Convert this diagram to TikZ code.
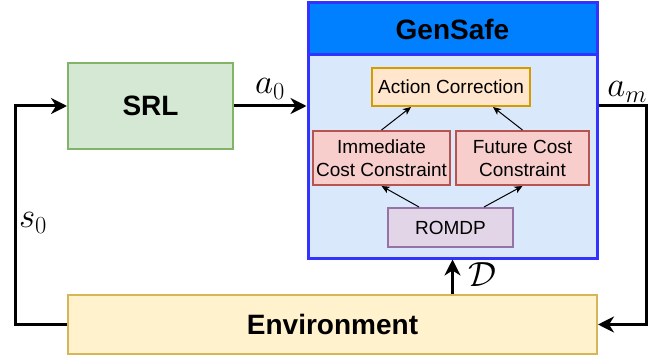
\RequirePackage{fix-cm}
\documentclass[tikz,border=0pt]{standalone}
\usepackage{fontspec}
\setmainfont{Liberation Sans}
\usetikzlibrary{arrows.meta,calc}
\definecolor{srlfill}{HTML}{D5E8D4}
\definecolor{srlline}{HTML}{82B366}
\definecolor{hdrfill}{HTML}{007FFF}
\definecolor{gsline}{HTML}{3333FF}
\definecolor{bodyfill}{HTML}{DAE8FC}
\definecolor{actfill}{HTML}{FFE6CC}
\definecolor{actline}{HTML}{D79B00}
\definecolor{redfill}{HTML}{F8CECC}
\definecolor{redline}{HTML}{B85450}
\definecolor{purfill}{HTML}{E1D5E7}
\definecolor{purline}{HTML}{9673A6}
\definecolor{envfill}{HTML}{FFF2CC}
\definecolor{envline}{HTML}{D6B656}
\tikzset{
  boxbase/.style={draw, rectangle, inner sep=0pt, align=center},
  bigtext/.style={font=\fontsize{28}{32}\selectfont\bfseries},
  smalltext/.style={font=\fontsize{19}{23}\selectfont},
  innerbox/.style={boxbase, smalltext, line width=2pt},
  thickarrow/.style={line width=3pt, -{Stealth[length=16pt,width=16pt,inset=5pt]}},
  thinarrow/.style={line width=1pt, -{Stealth[length=8pt,width=7pt,inset=2pt]}},
  mathlabel/.style={font=\fontsize{35}{40}\selectfont, inner sep=0pt}
}
\begin{document}
\begin{tikzpicture}[x=1pt,y=-1pt]
\useasboundingbox (0,0) rectangle (660,358);
% GenSafe
\node[boxbase, fill=bodyfill, draw=gsline, line width=3pt, minimum width=289pt, minimum height=203pt] (body) at (452.5,156.5) {};
\node[boxbase, fill=hdrfill, draw=gsline, line width=3pt, minimum width=289pt, minimum height=52pt, bigtext] (hdr) at (452.5,29) {GenSafe};
% inner boxes
\node[innerbox, fill=actfill, draw=actline, minimum width=158pt, minimum height=38pt] (act) at (451,87) {Action Correction};
\node[innerbox, fill=redfill, draw=redline, minimum width=137pt, minimum height=54pt] (imm) at (381.5,158) {Immediate\\Cost Constraint};
\node[innerbox, fill=redfill, draw=redline, minimum width=133pt, minimum height=54pt] (fut) at (522.5,158) {Future Cost\\Constraint};
\node[innerbox, fill=purfill, draw=purline, minimum width=125pt, minimum height=39pt] (rom) at (450.5,227.5) {ROMDP};
% outer boxes
\node[boxbase, fill=srlfill, draw=srlline, line width=2pt, minimum width=165pt, minimum height=86pt, bigtext] (srl) at (150.5,106) {SRL};
\node[boxbase, fill=envfill, draw=envline, line width=2pt, minimum width=529pt, minimum height=59pt, bigtext] (env) at (332.5,324.5) {Environment};
% inner arrows
\draw[thinarrow] (imm.north) -- ([xshift=40pt]act.south west);
\draw[thinarrow] (fut.north) -- ([xshift=-38pt]act.south east);
\draw[thinarrow] ([xshift=32pt]rom.north west) -- (imm.south);
\draw[thinarrow] ([xshift=-30pt]rom.north east) -- (fut.south);
% main connectors
\draw[thickarrow] (srl.east) -- (srl.east -| body.west);
\draw[thickarrow] (env.west) -- ++(-52,0) |- (srl.west);
\draw[thickarrow] (srl.east -| body.east) -- ++(48,0) |- (env.east);
\draw[thickarrow] (env.north -| body.south) -- (body.south);
% labels
\node[mathlabel] (la0) at (270,89) {$a_0$};
\node[mathlabel] (ls0) at (33,223) {$s_0$};
\node[mathlabel] (lam) at (627,92) {$a_m$};
\node[mathlabel] (lD) at (482,275) {$\mathcal{D}$};
\end{tikzpicture}
\end{document}
